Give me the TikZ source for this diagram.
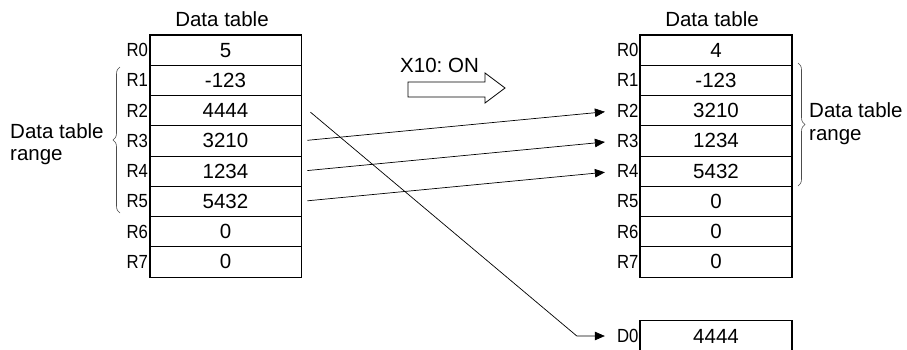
\documentclass[tikz,border=0pt]{standalone}
\usepackage{fontspec}
\setmainfont{Liberation Sans}
\usetikzlibrary{arrows.meta,decorations.pathreplacing,calc}
\newcommand{\narrowtxt}[1]{\scalebox{0.88}[1]{#1}}
\begin{document}
\frenchspacing
\begin{tikzpicture}[x=1pt,y=-1pt,
  cell/.style={minimum width=151pt,minimum height=30.25pt,inner sep=0pt,draw,line width=0.8pt,font=\fontsize{20.5}{24}\selectfont},
  rlab/.style={anchor=east,inner sep=0pt,font=\fontsize{19}{22}\selectfont},
  txt/.style={inner sep=0pt,font=\fontsize{20.5}{24}\selectfont},
  border/.style={line width=1.7pt},
  conn/.style={line width=0.7pt},
  tip/.style={-{Triangle[length=10pt,width=8.5pt]}},
  bracestyle/.style={decorate,decoration={brace,amplitude=7pt},line width=0.6pt,draw=black!70}]
\useasboundingbox (0,0) rectangle (907,349);
% left table
\foreach \i/\v in {0/5,1/-123,2/4444,3/3210,4/1234,5/5432,6/0,7/0}{
  \node[cell] (la\i) at (225.5,{35+30.25*\i+15.125}) {\v};
  \node[rlab] (ll\i) at ($(la\i.west)+(-1.5,0)$) {\narrowtxt{R\i}};
}
\draw[border] (la0.north west) rectangle (la7.south east);
% right table
\foreach \i/\v in {0/4,1/-123,2/3210,3/1234,4/5432,5/0,6/0,7/0}{
  \node[cell] (ra\i) at (716,{35+30.25*\i+15.125}) {\v};
  \node[rlab] (rl\i) at ($(ra\i.west)+(-1.5,0)$) {\narrowtxt{R\i}};
}
\draw[border] (ra0.north west) rectangle (ra7.south east);
% D0
\node[cell,draw=none] (dc) at (716,336) {4444};
\node[rlab] (dl) at ($(dc.west)+(-1.5,0)$) {\narrowtxt{D0}};
\draw[border] ($(dc.south west)+(0,10)$) -- (dc.north west) -- (dc.north east) -- ($(dc.south east)+(0,10)$);
% headers
\node[txt,anchor=base] (hl) at (222,26) {Data table};
\node[txt,anchor=base] (hr) at (712,26) {Data table};
% range labels
\node[txt,anchor=base west] (rgl1) at (10,138) {Data table};
\node[txt,anchor=base west] (rgl2) at (10,160) {range};
\node[txt,anchor=base west] (rgr1) at (809,117) {Data table};
\node[txt,anchor=base west] (rgr2) at (809,140) {range};
% braces
\draw[bracestyle] (120,213) -- (120,67);
\draw[bracestyle] (798,63) -- (798,186);
% X10 ON
\node[txt,anchor=base west] (x10) at (400,72) {X10: ON};
\draw[line width=0.8pt] (408,82) -- (485,82) -- (485,73) -- (505,88) -- (485,103) -- (485,97) -- (408,97) -- cycle;
% connectors
\draw[conn,tip,shorten <=6pt,shorten >=12pt] (la3.east) -- (rl2.west);
\draw[conn,tip,shorten <=6pt,shorten >=12pt] (la4.east) -- (rl3.west);
\draw[conn,tip,shorten <=6pt,shorten >=12pt] (la5.east) -- (rl4.west);
\coordinate (s2) at ($(la2.east)+(9,1.5)$);
\coordinate (bend) at ($(dl.west)+(-40,0)$);
\draw[conn,tip,shorten >=12pt] (s2) -- (bend) -- (dl.west);
\end{tikzpicture}
\end{document}
